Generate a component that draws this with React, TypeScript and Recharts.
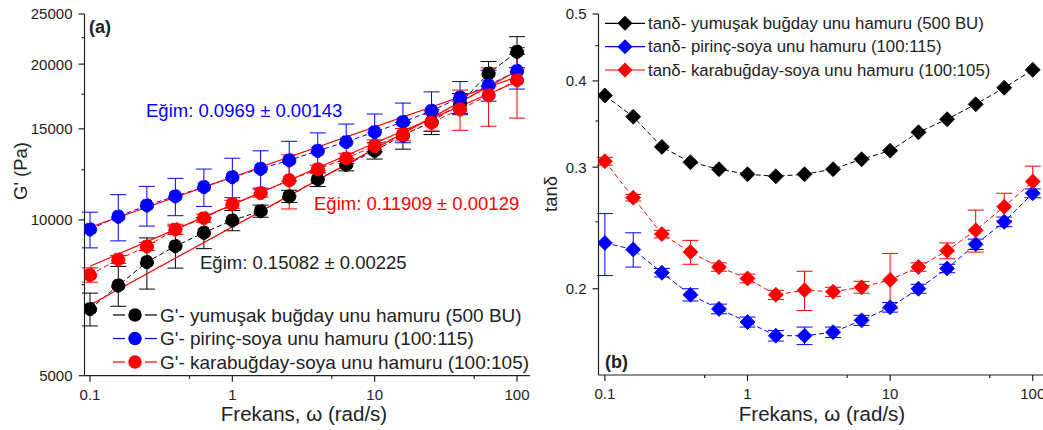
import { LineChart, Line, XAxis, YAxis, ErrorBar } from "recharts";

const FONT = "'Liberation Sans', Arial, sans-serif";
const INK = "#222";
const BLACK = "#000000";
const BLUE = "#0000ff";
const RED = "#ff0000";

// frequency points (rad/s), shared by both panels
const FREQ = [0.1, 0.158, 0.251, 0.398, 0.631, 1, 1.58, 2.51, 3.98, 6.31, 10, 15.8, 25.1, 39.8, 63.1, 100];

// (a) G' (Pa)
const G_WHEAT = [6730, 7470, 8290, 8900, 9450, 9980, 10400, 11110, 11980, 12790, 13600, 14570, 15470, 16800, 19190, 21140];
const G_WHEAT_ERR = [490, 660, 940, 830, 650, 450, 280, 300, 380, 350, 490, 870, 850, 750, 1050, 1460];
const G_RICE = [9590, 10150, 10670, 11110, 11580, 12100, 12560, 13040, 13600, 14150, 14790, 15460, 16250, 17240, 18210, 19400];
const G_RICE_ERR = [760, 1040, 940, 920, 960, 1060, 1040, 1150, 1130, 1170, 1230, 1360, 1430, 1270, 1250, 1500];
const G_BUCK = [7830, 8390, 8890, 9590, 10080, 10720, 11270, 11930, 12530, 13150, 13900, 14620, 15420, 16360, 17420, 18630];
const G_BUCK_ERR = [250, 150, 160, 220, 180, 190, 200, 1430, 220, 300, 380, 400, 560, 1460, 2250, 2900];

// power-law fit lines, end points
const FIT_X = [0.1, 100];
const FIT_WHEAT = [6850, 19410];
const FIT_RICE = [9680, 18900];
const FIT_BUCK = [8135, 18510];

// (b) tan delta
const T_WHEAT = [0.381, 0.355, 0.321, 0.305, 0.298, 0.293, 0.291, 0.293, 0.298, 0.308, 0.317, 0.337, 0.352, 0.370, 0.391, 0.415];
const T_RICE = [0.233, 0.228, 0.211, 0.196, 0.187, 0.179, 0.171, 0.171, 0.173, 0.180, 0.188, 0.200, 0.214, 0.232, 0.250, 0.275];
const T_RICE_ERR = [0.024, 0.013, 0.003, 0.004, 0.003, 0.003, 0.003, 0.005, 0.003, 0.003, 0.003, 0.003, 0.003, 0.004, 0.004, 0.004];
const T_BUCK = [0.306, 0.271, 0.240, 0.226, 0.215, 0.207, 0.196, 0.199, 0.198, 0.201, 0.206, 0.215, 0.227, 0.243, 0.263, 0.286];
const T_BUCK_ERR = [0.004, 0.003, 0.003, 0.009, 0.003, 0.003, 0.003, 0.013, 0.003, 0.004, 0.019, 0.003, 0.006, 0.017, 0.012, 0.015];

// ticks
const X_TICKS = [0.1, 0.5, 1, 5, 10, 50, 100];
const X_LABELS = [0.1, 1, 10, 100];
const G_TICKS = [5000, 7500, 10000, 12500, 15000, 17500, 20000, 22500, 25000];
const G_LABELS = [5000, 10000, 15000, 20000, 25000];
const T_TICKS = [0.2, 0.25, 0.3, 0.35, 0.4, 0.45, 0.5];
const T_LABELS = [0.2, 0.3, 0.4, 0.5];

const gData = FREQ.map((w, i) => ({
  w,
  wheat: G_WHEAT[i], wheatErr: G_WHEAT_ERR[i],
  rice: G_RICE[i], riceErr: G_RICE_ERR[i],
  buck: G_BUCK[i], buckErr: G_BUCK_ERR[i],
}));

const tData = FREQ.map((w, i) => ({
  w,
  wheat: T_WHEAT[i],
  rice: T_RICE[i], riceErr: T_RICE_ERR[i],
  buck: T_BUCK[i], buckErr: T_BUCK_ERR[i],
}));

const fitRows = (ys: number[]) => FIT_X.map((w, i) => ({ w, fit: ys[i] }));

const Y_MARGIN = 12;
const X_MARGIN = 13;

function yTick(labels: number[]) {
  return (p: any) => {
    const v = p.payload.value;
    const major = labels.includes(v);
    const ax = p.x + Y_MARGIN;
    return (
      <g>
        <line x1={ax} x2={ax - (major ? 6 : 3)} y1={p.y} y2={p.y} stroke={INK} strokeWidth={1.2} />
        {major && (
          <text x={p.x} y={p.y} dy="0.36em" textAnchor="end" fontSize={15} fontFamily={FONT} fill={INK}>
            {String(v)}
          </text>
        )}
      </g>
    );
  };
}

function xTick(p: any) {
  const v = p.payload.value;
  const major = X_LABELS.includes(v);
  const ay = p.y - X_MARGIN;
  return (
    <g>
      <line x1={p.x} x2={p.x} y1={ay} y2={ay + (major ? 6 : 3)} stroke={INK} strokeWidth={1.2} />
      {major && (
        <text x={p.x} y={p.y} dy="0.75em" textAnchor="middle" fontSize={15} fontFamily={FONT} fill={INK}>
          {String(v)}
        </text>
      )}
    </g>
  );
}

const circle = (c: string) => ({ r: 6.7, fill: c, stroke: c, strokeWidth: 1 });

const diamond = (c: string) => (p: any) => {
  const { cx, cy, index } = p;
  if (cx == null || cy == null) return <g key={index} />;
  const s = 7.5;
  return (
    <polygon
      key={index}
      points={`${cx},${cy - s} ${cx + s},${cy} ${cx},${cy + s} ${cx - s},${cy}`}
      fill={c}
      stroke={c}
      strokeWidth={0.8}
    />
  );
};

const axisLine = { stroke: INK, strokeWidth: 1.2 };

function PanelA() {
  return (
    <LineChart width={540} height={430} data={gData} margin={{ top: 14, right: 10, bottom: 24.3, left: 24.5 }}>
      <XAxis
        dataKey="w" type="number" scale="log" domain={[0.0915, 123.4]} allowDataOverflow
        ticks={X_TICKS} interval={0} tick={xTick} tickLine={false} tickSize={0} tickMargin={X_MARGIN}
        axisLine={axisLine} height={30}
      />
      <YAxis
        type="number" scale="log" domain={[5000, 25000]} allowDataOverflow
        ticks={G_TICKS} interval={0} tick={yTick(G_LABELS)} tickLine={false} tickSize={0} tickMargin={Y_MARGIN}
        axisLine={axisLine} width={60}
      />
      <Line dataKey="wheat" stroke={BLACK} strokeWidth={1} strokeDasharray="5 3" dot={circle(BLACK)} isAnimationActive={false}>
        <ErrorBar dataKey="wheatErr" direction="y" width={8} stroke={BLACK} strokeWidth={1} />
      </Line>
      <Line dataKey="rice" stroke={BLUE} strokeWidth={1} strokeDasharray="5 3" dot={circle(BLUE)} isAnimationActive={false}>
        <ErrorBar dataKey="riceErr" direction="y" width={8} stroke={BLUE} strokeWidth={1} />
      </Line>
      <Line dataKey="buck" stroke={RED} strokeWidth={1} strokeDasharray="5 3" dot={circle(RED)} isAnimationActive={false}>
        <ErrorBar dataKey="buckErr" direction="y" width={8} stroke={RED} strokeWidth={1} />
      </Line>
      <Line data={fitRows(FIT_WHEAT)} dataKey="fit" stroke={RED} strokeWidth={1.2} dot={false} isAnimationActive={false} />
      <Line data={fitRows(FIT_RICE)} dataKey="fit" stroke={RED} strokeWidth={1.2} dot={false} isAnimationActive={false} />
      <Line data={fitRows(FIT_BUCK)} dataKey="fit" stroke={RED} strokeWidth={1.2} dot={false} isAnimationActive={false} />
    </LineChart>
  );
}

function PanelB() {
  return (
    <LineChart width={503} height={430} data={tData} margin={{ top: 14, right: 0, bottom: 25, left: 8.5 }}>
      <XAxis
        dataKey="w" type="number" scale="log" domain={[0.0902, 118]} allowDataOverflow
        ticks={X_TICKS} interval={0} tick={xTick} tickLine={false} tickSize={0} tickMargin={X_MARGIN}
        axisLine={axisLine} height={30}
      />
      <YAxis
        type="number" scale="log" domain={[0.15, 0.5]} allowDataOverflow
        ticks={T_TICKS} interval={0} tick={yTick(T_LABELS)} tickLine={false} tickSize={0} tickMargin={Y_MARGIN}
        axisLine={axisLine} width={50}
      />
      <Line dataKey="wheat" stroke={BLACK} strokeWidth={1} strokeDasharray="5 3" dot={diamond(BLACK)} isAnimationActive={false} />
      <Line dataKey="rice" stroke={BLUE} strokeWidth={1} strokeDasharray="5 3" dot={diamond(BLUE)} isAnimationActive={false}>
        <ErrorBar dataKey="riceErr" direction="y" width={8} stroke={BLUE} strokeWidth={1} />
      </Line>
      <Line dataKey="buck" stroke={RED} strokeWidth={1} strokeDasharray="5 3" dot={diamond(RED)} isAnimationActive={false}>
        <ErrorBar dataKey="buckErr" direction="y" width={8} stroke={RED} strokeWidth={1} />
      </Line>
    </LineChart>
  );
}

const LEGEND_A = [
  { label: "G'- yumuşak buğday unu hamuru (500 BU)", color: BLACK, y: 315 },
  { label: "G'- pirinç-soya unu hamuru (100:115)", color: BLUE, y: 338.5 },
  { label: "G'- karabuğday-soya unu hamuru (100:105)", color: RED, y: 362 },
];

const LEGEND_B = [
  { label: "tanδ- yumuşak buğday unu hamuru (500 BU)", color: BLACK, y: 23.3 },
  { label: "tanδ- pirinç-soya unu hamuru (100:115)", color: BLUE, y: 46.7 },
  { label: "tanδ- karabuğday-soya unu hamuru (100:105)", color: RED, y: 70 },
];

function Overlay() {
  const t = { fontFamily: FONT, dominantBaseline: "central" as const };
  return (
    <svg width={1043} height={430} style={{ position: "absolute", left: 0, top: 0, pointerEvents: "none" }}>
      <text x={89} y={27} fontSize={18} fontWeight={700} fill={INK} {...t}>(a)</text>
      <text x={605} y={362} fontSize={18} fontWeight={700} fill={INK} {...t}>(b)</text>

      <text x={146} y={110} fontSize={18.5} fill={BLUE} {...t}>Eğim: 0.0969 ± 0.00143</text>
      <text x={314} y={203} fontSize={18.5} fill={RED} {...t}>Eğim: 0.11909 ± 0.00129</text>
      <text x={200} y={262} fontSize={18.5} fill={INK} {...t}>Eğim: 0.15082 ± 0.00225</text>

      <text transform="translate(20,171) rotate(-90)" textAnchor="middle" fontSize={18.5} fill={INK} {...t}>G' (Pa)</text>
      <text transform="translate(550,194) rotate(-90)" textAnchor="middle" fontSize={18.5} fill={INK} {...t}>tanδ</text>

      <text x={304} y={413} textAnchor="middle" fontSize={20.5} fill={INK} {...t}>Frekans, ω (rad/s)</text>
      <text x={822} y={413} textAnchor="middle" fontSize={20.5} fill={INK} {...t}>Frekans, ω (rad/s)</text>

      {LEGEND_A.map((l) => (
        <g key={l.label}>
          <line x1={113} x2={125} y1={l.y} y2={l.y} stroke={l.color} strokeWidth={1.2} />
          <line x1={145} x2={157} y1={l.y} y2={l.y} stroke={l.color} strokeWidth={1.2} />
          <circle cx={135} cy={l.y} r={6.7} fill={l.color} />
          <text x={160} y={l.y} fontSize={19} fill={INK} {...t}>{l.label}</text>
        </g>
      ))}

      {LEGEND_B.map((l) => (
        <g key={l.label}>
          <line x1={605} x2={645} y1={l.y} y2={l.y} stroke={l.color} strokeWidth={1.2} />
          <polygon points={`625,${l.y - 7.5} 632.5,${l.y} 625,${l.y + 7.5} 617.5,${l.y}`} fill={l.color} />
          <text x={648} y={l.y} fontSize={16.8} fill={INK} {...t}>{l.label}</text>
        </g>
      ))}
    </svg>
  );
}

export default function App() {
  return (
    <div style={{ position: "absolute", left: 0, top: 0, width: 1043, height: 430, background: "#fff", overflow: "hidden" }}>
      <div style={{ position: "absolute", left: 0, top: 0 }}>
        <PanelA />
      </div>
      <div style={{ position: "absolute", left: 540, top: 0 }}>
        <PanelB />
      </div>
      <Overlay />
    </div>
  );
}
